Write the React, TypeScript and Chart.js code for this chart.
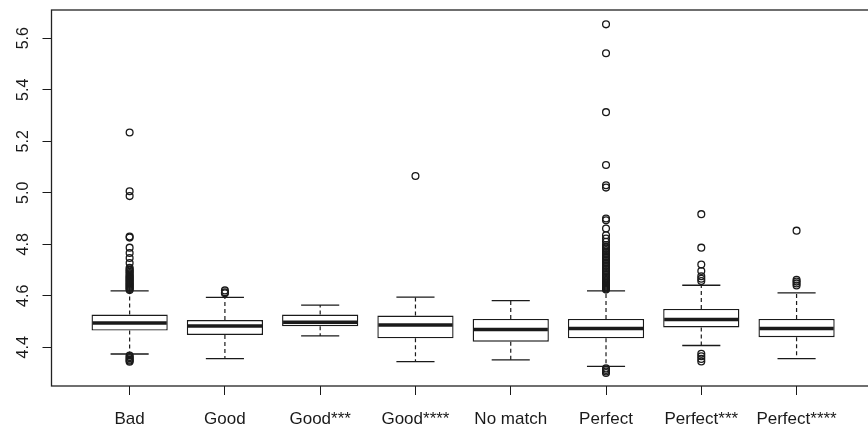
import React, { useEffect, useRef } from "react";
import { Chart, registerables } from "chart.js";

Chart.register(...registerables);

const categories = ["Bad", "Good", "Good***", "Good****", "No match", "Perfect", "Perfect***", "Perfect****"];
const q1 = [4.465, 4.448, 4.482, 4.435, 4.422, 4.435, 4.477, 4.439];
const medians = [4.494, 4.483, 4.497, 4.487, 4.469, 4.473, 4.508, 4.473];
const q3 = [4.527, 4.506, 4.527, 4.523, 4.510, 4.510, 4.549, 4.510];
const whiskerLow = [4.374, 4.356, 4.444, 4.344, 4.351, 4.326, 4.407, 4.356];
const whiskerHigh = [4.619, 4.594, 4.564, 4.595, 4.581, 4.619, 4.641, 4.611];
const yTicks = [4.4, 4.6, 4.8, 5.0, 5.2, 5.4, 5.6];

const outliersBad = [
  4.344, 4.348, 4.352, 4.357, 4.362, 4.368,
  4.622, 4.626, 4.630, 4.634, 4.638, 4.642, 4.646, 4.650, 4.654, 4.658, 4.662, 4.666,
  4.670, 4.674, 4.678, 4.683, 4.688, 4.693, 4.698, 4.703, 4.709, 4.727, 4.747, 4.766,
  4.787, 4.826, 4.830, 4.987, 5.006, 5.234,
];
const outliersGood = [4.610, 4.614, 4.621];
const outliersGood3: number[] = [];
const outliersGood4 = [5.065];
const outliersNoMatch: number[] = [];
const outliersPerfect = [
  4.300, 4.306, 4.312, 4.318,
  4.624, 4.628, 4.632, 4.636, 4.640, 4.644, 4.648, 4.652, 4.656, 4.660, 4.665, 4.670,
  4.676, 4.682, 4.688, 4.694, 4.700, 4.706, 4.712, 4.718, 4.724, 4.730, 4.736, 4.742,
  4.748, 4.754, 4.760, 4.766, 4.772, 4.778, 4.784, 4.790, 4.797, 4.810, 4.822, 4.835,
  4.861, 4.893, 4.900, 5.020, 5.029, 5.108, 5.313, 5.542, 5.654,
];
const outliersPerfect3 = [4.345, 4.355, 4.365, 4.375, 4.657, 4.666, 4.676, 4.696, 4.721, 4.787, 4.917];
const outliersPerfect4 = [4.640, 4.648, 4.655, 4.662, 4.853];

const outlierLists = [
  outliersBad, outliersGood, outliersGood3, outliersGood4,
  outliersNoMatch, outliersPerfect, outliersPerfect3, outliersPerfect4,
];

const INK = "#1a1a1a";
const FONT = "'Liberation Sans', Arial, sans-serif";

const boxPlugin = {
  id: "rbox",
  afterDatasetsDraw(chart: any) {
    const { ctx, chartArea, scales } = chart;
    const xs = scales.x;
    const ys = scales.y;
    const step = xs.getPixelForValue(2) - xs.getPixelForValue(1);
    const capHalf = step * 0.2;
    const boxHalf = step * 0.4;
    ctx.save();
    ctx.strokeStyle = INK;
    for (let i = 0; i < categories.length; i++) {
      const xc = xs.getPixelForValue(i + 1);
      const yq1 = ys.getPixelForValue(q1[i]);
      const yq3 = ys.getPixelForValue(q3[i]);
      const ylo = ys.getPixelForValue(whiskerLow[i]);
      const yhi = ys.getPixelForValue(whiskerHigh[i]);
      const ymed = ys.getPixelForValue(medians[i]);
      ctx.lineWidth = 1.2;
      ctx.setLineDash([4, 3]);
      ctx.beginPath();
      ctx.moveTo(xc, yq3);
      ctx.lineTo(xc, yhi);
      ctx.moveTo(xc, yq1);
      ctx.lineTo(xc, ylo);
      ctx.stroke();
      ctx.setLineDash([]);
      ctx.lineWidth = 1.3;
      ctx.beginPath();
      ctx.moveTo(xc - capHalf, yhi);
      ctx.lineTo(xc + capHalf, yhi);
      ctx.moveTo(xc - capHalf, ylo);
      ctx.lineTo(xc + capHalf, ylo);
      ctx.stroke();
      ctx.lineWidth = 3.5;
      ctx.beginPath();
      ctx.moveTo(xc - boxHalf + 1, ymed);
      ctx.lineTo(xc + boxHalf - 1, ymed);
      ctx.stroke();
    }
    ctx.lineWidth = 1.3;
    ctx.strokeStyle = "#222";
    ctx.strokeRect(chartArea.left, chartArea.top, chartArea.right - chartArea.left, chartArea.bottom - chartArea.top);
    ctx.fillStyle = INK;
    ctx.font = `16px ${FONT}`;
    ctx.textAlign = "center";
    ctx.textBaseline = "alphabetic";
    for (const v of yTicks) {
      const y = ys.getPixelForValue(v);
      ctx.save();
      ctx.translate(27.5, y);
      ctx.rotate(-Math.PI / 2);
      ctx.fillText(v.toFixed(1), 0, 0);
      ctx.restore();
    }
    ctx.restore();
  },
};

export default function App() {
  const ref = useRef<HTMLCanvasElement | null>(null);
  useEffect(() => {
    const canvas = ref.current;
    if (!canvas) return;
    const boxData = categories.map((_, i) => ({ x: i + 1, y: [q1[i], q3[i]] }));
    const outlierData: { x: number; y: number }[] = [];
    outlierLists.forEach((list, i) => list.forEach((v) => outlierData.push({ x: i + 1, y: v })));
    const chart = new Chart(canvas, {
      type: "bar",
      data: {
        datasets: [
          {
            type: "bar",
            data: boxData as any,
            backgroundColor: "#ffffff",
            borderColor: INK,
            borderWidth: 1.4,
            borderSkipped: false,
            barPercentage: 0.8,
            categoryPercentage: 1,
          } as any,
          {
            type: "scatter",
            data: outlierData,
            pointStyle: "circle",
            pointRadius: 3.4,
            pointBorderWidth: 1.3,
            pointBorderColor: INK,
            pointBackgroundColor: "rgba(0,0,0,0)",
          } as any,
        ],
      },
      options: {
        animation: false,
        responsive: false,
        devicePixelRatio: 1,
        events: [],
        layout: { padding: { left: 42.5, top: 10, right: 1.5, bottom: 0 } },
        plugins: { legend: { display: false }, tooltip: { enabled: false } },
        scales: {
          x: {
            type: "linear",
            min: 0.18,
            max: 8.82,
            offset: false,
            afterBuildTicks: (axis: any) => {
              axis.ticks = categories.map((_, i) => ({ value: i + 1 }));
            },
            afterFit: (axis: any) => {
              axis.height = 41;
            },
            grid: { display: true, offset: false, drawOnChartArea: false, drawTicks: true, tickLength: 9, color: INK, lineWidth: 1 },
            border: { display: false },
            ticks: {
              autoSkip: false,
              maxRotation: 0,
              minRotation: 0,
              padding: 14,
              color: INK,
              font: { family: FONT, size: 17 },
              callback: (v: any) => categories[Math.round(Number(v)) - 1] ?? "",
            },
          },
          y: {
            type: "linear",
            min: 4.2497,
            max: 5.7097,
            afterBuildTicks: (axis: any) => {
              axis.ticks = yTicks.map((v) => ({ value: v }));
            },
            afterFit: (axis: any) => {
              axis.width = 9;
            },
            grid: { display: true, drawOnChartArea: false, drawTicks: true, tickLength: 9, color: INK, lineWidth: 1 },
            border: { display: false },
            ticks: { display: false },
          },
        },
      },
      plugins: [boxPlugin],
    });
    return () => chart.destroy();
  }, []);
  return (
    <div style={{ position: "fixed", left: 0, top: 0, width: 868, height: 427, overflow: "hidden", background: "#fff" }}>
      <canvas ref={ref} width={880} height={427} style={{ width: 880, height: 427, display: "block" }} />
    </div>
  );
}
